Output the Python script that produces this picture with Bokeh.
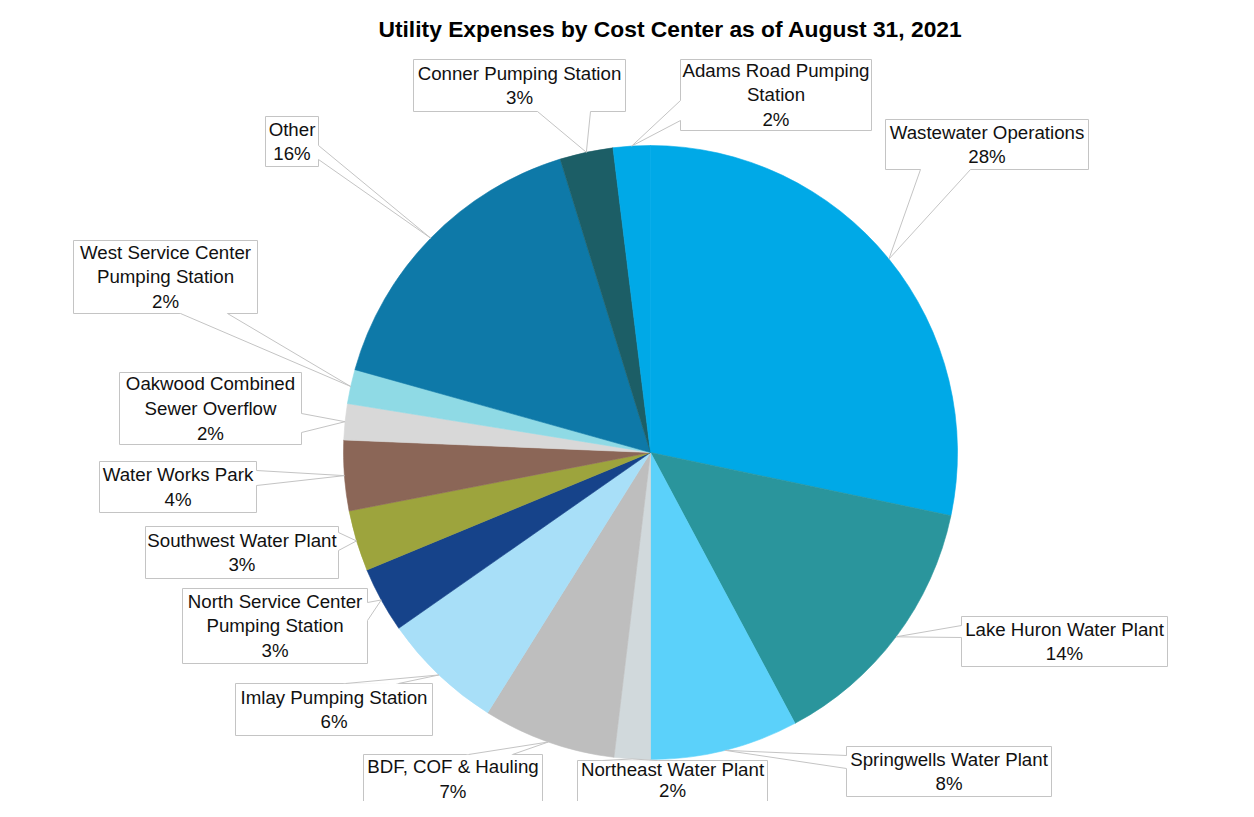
import math
from bokeh.plotting import figure
from bokeh.models import Range1d
from bokeh.embed import file_html
from bokeh.resources import INLINE
from bokeh.core.properties import value

# ---------------- data ----------------
categories = [
    "Wastewater Operations", "Lake Huron Water Plant", "Springwells Water Plant",
    "Northeast Water Plant", "BDF, COF & Hauling", "Imlay Pumping Station",
    "North Service Center Pumping Station", "Southwest Water Plant", "Water Works Park",
    "Oakwood Combined Sewer Overflow", "West Service Center Pumping Station", "Other",
    "Conner Pumping Station", "Adams Road Pumping Station",
]
shares = [28.3, 13.9, 7.8, 1.9, 7.0, 6.4, 3.45, 3.2, 3.7, 1.9, 1.8, 15.9, 2.8, 1.95]
label_names = [
    "Wastewater Operations", "Lake Huron Water Plant", "Springwells Water Plant",
    "Northeast Water Plant", "BDF, COF & Hauling", "Imlay Pumping Station",
    "North Service Center\nPumping Station", "Southwest Water Plant", "Water Works Park",
    "Oakwood Combined\nSewer Overflow", "West Service Center\nPumping Station", "Other",
    "Conner Pumping Station", "Adams Road Pumping\nStation",
]
title_text = "Utility Expenses by Cost Center as of August 31, 2021"

# ---------------- styles / layout (screen pixels) ----------------
colors = ["#00A9E7", "#2A959C", "#5BD1FA", "#D1D9DC", "#BEBEBE", "#A8DFF8",
          "#16438A", "#9DA43D", "#8B6657", "#D8D8D8", "#8FDAE5", "#0E79A8",
          "#1C5E66", "#00A9E7"]
# label boxes: left, top, right, bottom
boxes = [
    (885, 119, 1088, 169), (961, 616, 1167, 666), (846, 746, 1051, 796),
    (577, 760, 767, 805), (363, 754, 542, 803), (235, 683, 432, 735),
    (182, 588, 367, 663), (145, 526, 338, 578), (99, 461, 256, 512),
    (119, 372, 301, 444), (73, 240, 257, 313), (265, 116, 318, 166),
    (413, 59, 625, 111), (680, 59, 871, 130),
]
# callout pointer base points on box edge
bases = [
    ((920, 169), (970, 169)), ((961, 625), (961, 637)), ((846, 755), (846, 768)),
    ((602, 760), (657, 760)), ((468, 754), (512, 754)), ((345, 683), (398, 683)),
    ((367, 602), (367, 620)), ((338, 532), (338, 550)), ((256, 470), (256, 485)),
    ((301, 413), (301, 432)), ((180, 313), (227, 313)), ((318, 145), (318, 159)),
    ((537, 111), (590, 111)), ((680, 100), (680, 120)),
]
CX, CY, R = 650, 452, 307
H = 817
FONT = "Liberation Sans"
BORDER = "#C4C4C4"
BOTTOM_LABEL = 3  # Northeast label sits at the lower edge of the canvas


def Y(sy):
    return H - sy


p = figure(width=1238, height=801, output_backend="svg", toolbar_location=None,
           x_range=Range1d(0, 1238), y_range=Range1d(16, 817),
           x_axis_type=None, y_axis_type=None, min_border=0)
p.grid.visible = False
p.outline_line_color = None
p.background_fill_color = "white"
p.border_fill_color = "white"

total = sum(shares)
starts, ends, mids = [], [], []
cum = 0.0
for v in shares:
    f0 = cum / total
    cum += v
    f1 = cum / total
    starts.append(math.pi / 2 - 2 * math.pi * f0)
    ends.append(math.pi / 2 - 2 * math.pi * f1)
    mids.append((f0 + f1) / 2)

p.wedge(x=[CX] * len(shares), y=[Y(CY)] * len(shares), radius=R,
        start_angle=starts, end_angle=ends, direction="clock",
        fill_color=colors, line_color=colors, line_width=0.6)

# boxes
p.quad(left=[b[0] for b in boxes], right=[b[2] for b in boxes],
       top=[Y(b[1]) for b in boxes], bottom=[Y(b[3]) for b in boxes],
       fill_color="white", line_color=BORDER, line_width=1)

# pointer tips from slice mid angles
tri_xs, tri_ys, lx, ly = [], [], [], []
for m, (b1, b2) in zip(mids, bases):
    th = 2 * math.pi * m
    tx = CX + R * math.sin(th)
    ty = CY - R * math.cos(th)
    pts = []
    for bx, by in (b1, b2):
        dx, dy = bx - tx, by - ty
        d = math.hypot(dx, dy)
        pts.append((bx + dx / d * 3, by + dy / d * 3))
    tri_xs.append([tx, pts[0][0], pts[1][0]])
    tri_ys.append([Y(ty), Y(pts[0][1]), Y(pts[1][1])])
    lx += [[tx, b1[0]], [tx, b2[0]]]
    ly += [[Y(ty), Y(b1[1])], [Y(ty), Y(b2[1])]]

p.patches(xs=tri_xs, ys=tri_ys, fill_color="white", line_color=None)
p.multi_line(xs=lx, ys=ly, line_color=BORDER, line_width=1)

labels = [f"{n}\n{round(v)}%" for n, v in zip(label_names, shares)]
idx = [i for i in range(len(labels)) if i != BOTTOM_LABEL]
p.text(x=[(boxes[i][0] + boxes[i][2]) / 2 for i in idx],
       y=[Y((boxes[i][1] + boxes[i][3]) / 2) for i in idx],
       text=[labels[i] for i in idx], text_align="center", text_baseline="middle",
       text_font=value(FONT), text_font_size="18.7px", text_color="#111111",
       text_line_height=1.18)
b = boxes[BOTTOM_LABEL]
p.text(x=[(b[0] + b[2]) / 2], y=[Y(779)], text=[labels[BOTTOM_LABEL]],
       text_align="center", text_baseline="middle",
       text_font=value(FONT), text_font_size="18.7px", text_color="#111111",
       text_line_height=1.0)

p.text(x=[670], y=[Y(28)], text=[title_text], text_align="center", text_baseline="middle",
       text_font=value(FONT), text_font_size="22.8px", text_font_style="bold",
       text_color="#000000")

open("out.html", "w").write(file_html(p, INLINE))
